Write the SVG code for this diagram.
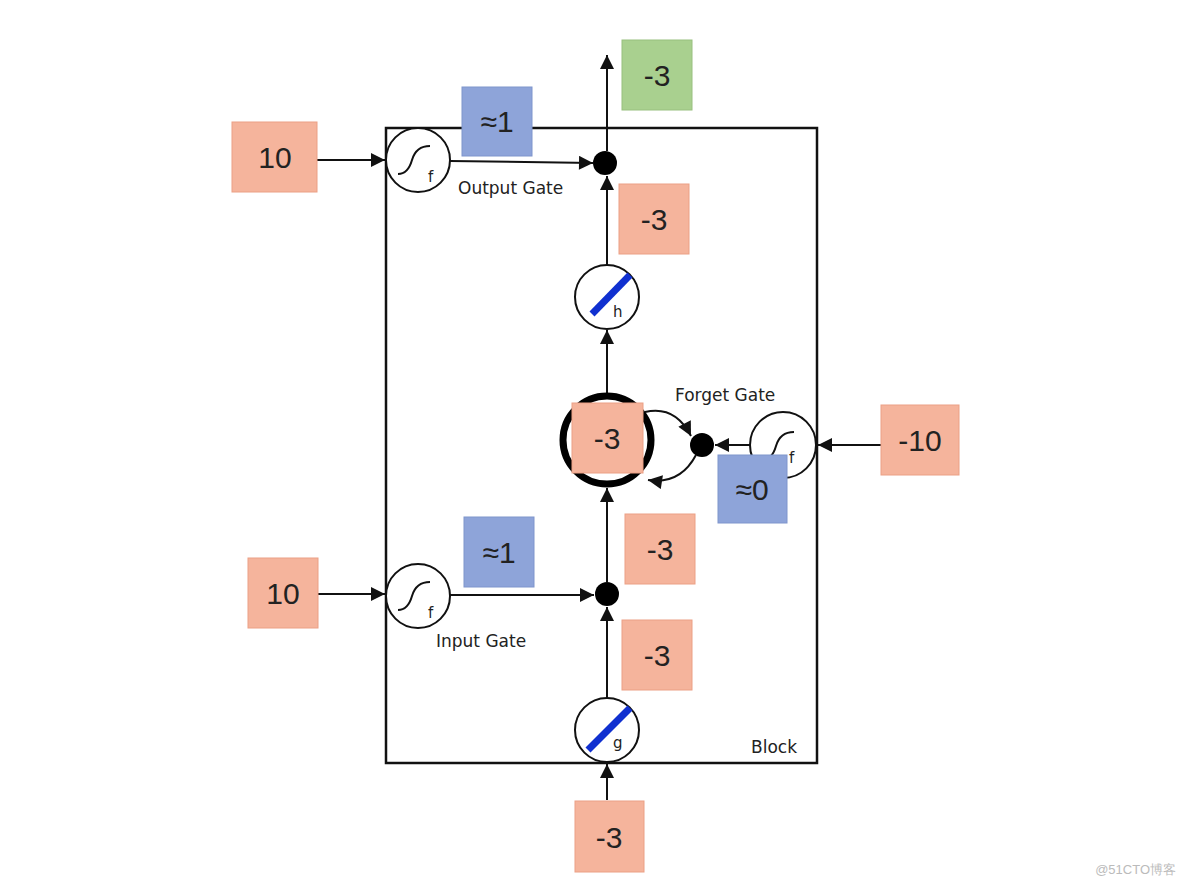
<svg xmlns="http://www.w3.org/2000/svg" width="1184" height="888" viewBox="0 0 1184 888">
<style>
.o{fill:#f5b49c;stroke:#eba085;stroke-width:1}
.b{fill:#8ea4d9;stroke:#7f95cc;stroke-width:1}
.g{fill:#a9d08f;stroke:#98c07e;stroke-width:1}
.n{font-family:"Liberation Sans",Arial,sans-serif;font-size:30px;fill:#222;text-anchor:middle}
.l{font-family:"DejaVu Sans",sans-serif;font-size:17px;fill:#222}
.s{font-family:"DejaVu Sans",sans-serif;font-size:15px;fill:#222}
.c{fill:#fff;stroke:#111;stroke-width:2}
.w{fill:none;stroke:#111;stroke-width:2}
.sl{stroke:#1030d0;stroke-width:7;stroke-linecap:butt}
</style>
<defs><marker id="a" viewBox="0 0 10 10" refX="10" refY="5" markerWidth="10" markerHeight="10" markerUnits="userSpaceOnUse" orient="auto"><path d="M0,0L10,5L0,10z" fill="#111"/></marker>
<marker id="ab" viewBox="0 0 10 10" refX="10" refY="5" markerWidth="18" markerHeight="14" markerUnits="userSpaceOnUse" orient="auto"><path d="M0,0L10,5L0,10z" fill="#111"/></marker></defs>
<rect x="386" y="128" width="431" height="635" fill="none" stroke="#111" stroke-width="2.5"/>
<g id="connectors" class="w">
<line x1="317" y1="160" x2="385" y2="160" marker-end="url(#ab)"/>
<line x1="450" y1="161" x2="593" y2="163" marker-end="url(#ab)"/>
<line x1="607" y1="265" x2="607" y2="176" marker-end="url(#ab)"/>
<line x1="607" y1="151" x2="607" y2="55" marker-end="url(#ab)"/>
<line x1="607" y1="393" x2="607" y2="330" marker-end="url(#ab)"/>
<line x1="607" y1="582" x2="607" y2="488" marker-end="url(#ab)"/>
<line x1="607" y1="698" x2="607" y2="607" marker-end="url(#ab)"/>
<line x1="607" y1="800" x2="607" y2="764" marker-end="url(#ab)"/>
<line x1="318" y1="594" x2="385" y2="594" marker-end="url(#ab)"/>
<line x1="450" y1="595" x2="594" y2="595" marker-end="url(#ab)"/>
<line x1="881" y1="445" x2="818" y2="445" marker-end="url(#ab)"/>
<line x1="750" y1="445" x2="715" y2="445" marker-end="url(#ab)"/>
<path d="M645,412 Q675,405 691,436" marker-end="url(#ab)"/>
<path d="M696,455 Q680,485 648,480" marker-end="url(#ab)"/>
</g>
<g id="outputGate"><circle class="c" cx="418" cy="160" r="32"/><path class="w" d="M398,174 Q408,174 412,160 Q416,146 430,146"/><text class="s" x="428" y="182">f</text></g>
<text class="l" x="458" y="194">Output Gate</text>
<g id="outDot"><circle cx="605" cy="163" r="12" fill="#000"/></g>
<g id="h"><circle class="c" cx="607" cy="297" r="32"/><line class="sl" x1="592" y1="314" x2="630" y2="275"/><text class="s" x="613" y="317">h</text></g>
<g id="cell"><circle cx="607" cy="440" r="44" fill="#fff" stroke="#000" stroke-width="7"/></g>
<g id="forgetDot"><circle cx="702" cy="445" r="12" fill="#000"/></g>
<g id="forgetGate"><circle class="c" cx="783" cy="445" r="33"/><path class="w" d="M762,460 Q772,460 776,446 Q780,432 794,432"/><text class="s" x="789" y="463">f</text></g>
<text class="l" x="675" y="401">Forget Gate</text>
<g id="inputGate"><circle class="c" cx="418" cy="596" r="32"/><path class="w" d="M398,610 Q408,610 412,596 Q416,582 430,582"/><text class="s" x="428" y="618">f</text></g>
<text class="l" x="436" y="647">Input Gate</text>
<g id="inDot"><circle cx="607" cy="594" r="12" fill="#000"/></g>
<g id="gnode"><circle class="c" cx="607" cy="730" r="32"/><line class="sl" x1="588" y1="750" x2="630" y2="708"/><text class="s" x="613" y="748">g</text></g>
<text class="l" x="751" y="753">Block</text>
<g id="v1"><rect class="o" x="232" y="122" width="85" height="70"/><text class="n" x="275" y="168">10</text></g>
<g id="v2"><rect class="b" x="462" y="87" width="70" height="69"/><text class="n" x="497" y="132">≈1</text></g>
<g id="v3"><rect class="g" x="622" y="40" width="70" height="70"/><text class="n" x="657" y="86">-3</text></g>
<g id="v4"><rect class="o" x="619" y="184" width="70" height="70"/><text class="n" x="654" y="230">-3</text></g>
<g id="v5"><rect class="o" x="572" y="403" width="71" height="70"/><text class="n" x="607" y="449">-3</text></g>
<g id="v6"><rect class="o" x="881" y="405" width="78" height="70"/><text class="n" x="920" y="451">-10</text></g>
<g id="v7"><rect class="b" x="718" y="455" width="69" height="68"/><text class="n" x="752" y="500">≈0</text></g>
<g id="v8"><rect class="b" x="464" y="517" width="70" height="70"/><text class="n" x="499" y="563">≈1</text></g>
<g id="v9"><rect class="o" x="625" y="514" width="70" height="70"/><text class="n" x="660" y="560">-3</text></g>
<g id="v10"><rect class="o" x="248" y="558" width="70" height="70"/><text class="n" x="283" y="604">10</text></g>
<g id="v11"><rect class="o" x="622" y="620" width="70" height="70"/><text class="n" x="657" y="666">-3</text></g>
<g id="v12"><rect class="o" x="575" y="801" width="69" height="71"/><text class="n" x="609" y="848">-3</text></g>
<text x="1176" y="874" font-family="Liberation Sans,sans-serif" font-size="13" fill="#bbb" text-anchor="end">@51CTO博客</text>
</svg>
